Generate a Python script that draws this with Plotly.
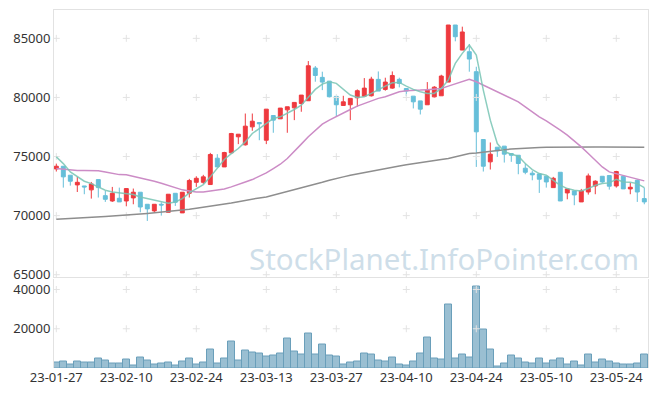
import plotly.graph_objects as go

dates = ["23-01-27","23-01-30","23-01-31","23-02-01","23-02-02","23-02-03","23-02-06","23-02-07","23-02-08","23-02-09",
         "23-02-10","23-02-13","23-02-14","23-02-15","23-02-16","23-02-17","23-02-20","23-02-21","23-02-22","23-02-23",
         "23-02-24","23-02-27","23-02-28","23-03-02","23-03-03","23-03-06","23-03-07","23-03-08","23-03-09","23-03-10",
         "23-03-13","23-03-14","23-03-15","23-03-16","23-03-17","23-03-20","23-03-21","23-03-22","23-03-23","23-03-24",
         "23-03-27","23-03-28","23-03-29","23-03-30","23-03-31","23-04-03","23-04-04","23-04-05","23-04-06","23-04-07",
         "23-04-10","23-04-11","23-04-12","23-04-13","23-04-14","23-04-17","23-04-18","23-04-19","23-04-20","23-04-21",
         "23-04-24","23-04-25","23-04-26","23-04-27","23-04-28","23-05-02","23-05-03","23-05-04","23-05-08","23-05-09",
         "23-05-10","23-05-11","23-05-12","23-05-15","23-05-16","23-05-17","23-05-18","23-05-19","23-05-22","23-05-23",
         "23-05-24","23-05-25","23-05-26","23-05-30","23-05-31"]

open_ = [73950,74180,73420,72600,72510,72180,73050,71690,71240,71470,
         71240,71500,71980,70960,70400,70960,70280,71890,70230,71890,
         72820,72820,72630,74860,74120,75310,76670,75990,77510,77880,
         76380,78470,78190,78950,79120,79490,79720,82490,81700,81380,
         80090,79320,79380,79970,80110,80140,81530,80680,80790,81530,
         80760,80110,79710,79380,80050,80140,81300,86130,84010,83870,
         82180,76440,74550,75790,75880,75250,75110,74010,73590,73530,
         73330,72370,73670,71920,72090,71160,72000,72510,73330,73390,
         72510,73330,72260,72990,71440]
high = [74400,74200,73420,73280,72510,72850,73050,72090,72430,72370,
        72290,72290,71980,70960,70960,71130,71810,71890,71980,73110,
        73330,73450,75310,75200,75400,77000,76890,78640,78640,77900,
        79010,78470,79100,79210,79580,80200,83080,82660,82180,81380,
        80090,80140,79920,80680,81640,81750,82200,81670,82200,81670,
        80760,80110,79710,81300,80960,81920,86130,86130,85990,84520,
        82600,76440,76190,75790,75880,75250,75110,74410,73790,73530,
        73330,73280,73670,72260,72090,72260,73560,72990,73330,73390,
        73790,73330,72770,73080,72370]
low = [73730,72370,72540,72000,71810,71440,71530,71160,71160,71160,
       70790,70960,70280,69550,70280,70000,70280,70820,70230,71530,
       72430,72680,72630,74120,74120,75250,76050,75930,77180,76380,
       76050,77010,78190,77010,78080,78790,79720,81330,80620,80000,
       78360,79320,78080,79210,80110,80080,80540,80570,80730,80850,
       80110,79070,78560,79380,80000,80140,81300,84750,84010,82180,
       74120,73730,73900,74970,74490,74550,73500,73500,72990,71920,
       72370,72370,71240,71380,70880,71160,71780,71810,72770,72200,
       72370,72260,71810,71160,70960]
close = [74180,73280,72910,72820,72430,72680,72370,71380,71890,71160,
         72290,71980,70730,70570,70960,70900,71810,71130,71980,72970,
         73160,73280,75170,74120,75340,76950,76890,77570,77990,77770,
         79010,78080,79100,79210,79580,80200,82680,81860,81300,80060,
         79380,79630,79920,80570,80790,81550,80540,81300,81860,81190,
         80540,79630,79010,80620,80870,81810,86130,85140,85540,83250,
         77090,74180,75200,75480,75200,75110,74410,73670,73450,73080,
         72850,73160,71240,72260,71750,72090,73360,72910,72850,72490,
         73730,72260,72400,72000,71160]

ma5 = [74970,74400,73700,73280,72910,72710,72430,72150,72000,71920,
       71860,71780,71580,71440,71300,71130,71050,71160,71440,71920,
       72290,72630,73280,73980,74750,75250,75680,76240,76950,77370,
       77800,78220,78360,78640,78980,79350,80060,80680,81130,81330,
       81190,80680,80200,80000,80060,80340,80680,80960,81240,81270,
       80960,80680,80480,80340,80340,80760,81470,82880,83730,84440,
       83590,80620,78080,76100,75400,75200,75030,74410,73900,73560,
       73420,72990,72570,72290,72150,72090,72290,72570,72710,72770,
       73080,72850,72820,72710,72370]
ma20 = [73980,73930,73840,73810,73810,73810,73790,73700,73560,73470,
        73450,73330,73190,73050,72910,72740,72540,72340,72180,72090,
        72000,72000,72090,72200,72260,72430,72660,72850,73050,73330,
        73620,73980,74350,74830,75400,76050,76670,77230,77740,78080,
        78360,78640,78980,79270,79490,79720,79920,80060,80280,80480,
        80570,80570,80620,80660,80700,80760,80960,81130,81300,81530,
        81330,81050,80760,80480,80200,79920,79630,79210,78790,78360,
        78020,77660,77230,76810,76330,75820,75250,74690,74120,73700,
        73560,73420,73280,73140,72940]
ma120 = [69700,69740,69780,69810,69840,69870,69900,69930,69960,69990,
         70030,70080,70130,70180,70230,70290,70350,70410,70470,70540,
         70620,70700,70780,70860,70940,71060,71180,71300,71420,71500,
         71580,71730,71880,72030,72170,72310,72480,72650,72820,72990,
         73160,73280,73410,73530,73650,73780,73880,73990,74090,74200,
         74300,74400,74490,74570,74660,74740,74830,74970,75110,75250,
         75300,75380,75460,75530,75580,75630,75680,75730,75750,75770,
         75790,75800,75810,75815,75820,75820,75815,75810,75805,75800,
         75800,75795,75790,75790,75785]

volume = [2700,3400,1700,3200,2700,2700,4800,3800,2200,2200,
          4300,1200,5300,3800,1700,2200,2700,1200,3200,4800,
          1700,2700,9400,2200,4800,13500,3800,8900,7900,7350,
          5800,6300,7350,15000,8400,6800,17600,6800,12000,6300,
          5800,1700,2700,3200,7350,6800,3800,3200,5300,1700,
          1200,3200,7350,15600,4800,4300,32500,4800,6800,5300,
          41700,19650,9400,700,2200,6300,4800,2700,2200,4800,
          2200,3800,4800,1700,3200,1200,6800,2700,4300,3200,
          2200,1700,1700,2200,6800]

tick_dates = ["23-01-27","23-02-10","23-02-24","23-03-13","23-03-27","23-04-10","23-04-24","23-05-10","23-05-24"]
price_ticks = [65000, 70000, 75000, 80000, 85000]
vol_ticks = [20000, 40000]

FONT = "Noto Sans"
UP = "#ee3a3f"
DOWN = "#66bfd9"

fig = go.Figure()

# grid crosses at tick intersections (drawn first, behind the data)
gx, gy = [], []
for d in tick_dates:
    for p in price_ticks:
        gx.append(d); gy.append(p)
fig.add_trace(go.Scatter(x=gx, y=gy, mode="markers", hoverinfo="skip", showlegend=False,
                         marker=dict(symbol="cross-thin", size=5, line=dict(color="#e3e3e3", width=1)),
                         xaxis="x", yaxis="y"))
gx2, gy2 = [], []
for d in tick_dates:
    for v in vol_ticks:
        gx2.append(d); gy2.append(v)
fig.add_trace(go.Scatter(x=gx2, y=gy2, mode="markers", hoverinfo="skip", showlegend=False,
                         marker=dict(symbol="cross-thin", size=5, line=dict(color="#e3e3e3", width=1)),
                         xaxis="x2", yaxis="y2"))

fig.add_trace(go.Scatter(x=dates, y=ma120, mode="lines", line=dict(color="#8e8e8e", width=1.5),
                         hoverinfo="skip", showlegend=False, xaxis="x", yaxis="y"))
fig.add_trace(go.Scatter(x=dates, y=ma20, mode="lines", line=dict(color="#cc8cc6", width=1.5),
                         hoverinfo="skip", showlegend=False, xaxis="x", yaxis="y"))
fig.add_trace(go.Candlestick(x=dates, open=open_, high=high, low=low, close=close,
                             increasing=dict(line=dict(color=UP, width=1), fillcolor=UP),
                             decreasing=dict(line=dict(color=DOWN, width=1), fillcolor=DOWN),
                             whiskerwidth=0, showlegend=False, xaxis="x", yaxis="y"))
fig.add_trace(go.Scatter(x=dates, y=ma5, mode="lines", line=dict(color="rgba(120,196,180,0.85)", width=1.5),
                         hoverinfo="skip", showlegend=False, xaxis="x", yaxis="y"))

fig.add_trace(go.Bar(x=dates, y=volume, marker=dict(color="rgba(140,182,204,0.88)", line=dict(color="#6a9fba", width=1)),
                     showlegend=False, xaxis="x2", yaxis="y2"))

xr = [-0.33, 84.53]
fig.update_layout(
    width=649, height=388,
    margin=dict(l=46, r=9, t=2, b=28, autoexpand=False),
    paper_bgcolor="white", plot_bgcolor="white",
    bargap=0, boxgap=0.2,
    font=dict(family=FONT, size=13, color="#333333"),
    xaxis=dict(type="category", categoryorder="array", categoryarray=dates,
               range=xr, domain=[0, 1], anchor="y", automargin=False,
               showticklabels=False, showgrid=False, zeroline=False,
               rangeslider=dict(visible=False),
               showline=True, mirror=True, linecolor="#e2e2e2", linewidth=1, ticks=""),
    yaxis=dict(domain=[0.253, 1], range=[64770, 87400], anchor="x", automargin=False,
               tickvals=price_ticks, ticktext=[str(v) for v in price_ticks],
               showgrid=False, zeroline=False,
               showline=True, mirror=True, linecolor="#e2e2e2", linewidth=1, ticks=""),
    xaxis2=dict(type="category", categoryorder="array", categoryarray=dates,
                range=xr, domain=[0, 1], anchor="y2", automargin=False,
                tickvals=tick_dates, ticktext=tick_dates, tickangle=0,
                showgrid=False, zeroline=False, showline=False, ticks="",
                tickfont=dict(size=13, color="#333333")),
    yaxis2=dict(domain=[0, 0.25], range=[0, 45600], anchor="x2", automargin=False,
                tickvals=vol_ticks, ticktext=[str(v) for v in vol_ticks],
                showgrid=False, zeroline=False,
                showline=True, mirror=True, linecolor="#e2e2e2", linewidth=1, ticks=""),
    annotations=[dict(text="StockPlanet.InfoPointer.com", xref="paper", yref="paper",
                      x=0.657, y=0.305, xanchor="center", yanchor="middle", showarrow=False,
                      font=dict(family=FONT, size=29.5, color="rgba(190,212,226,0.75)"))],
)

fig.write_html("out.html")
